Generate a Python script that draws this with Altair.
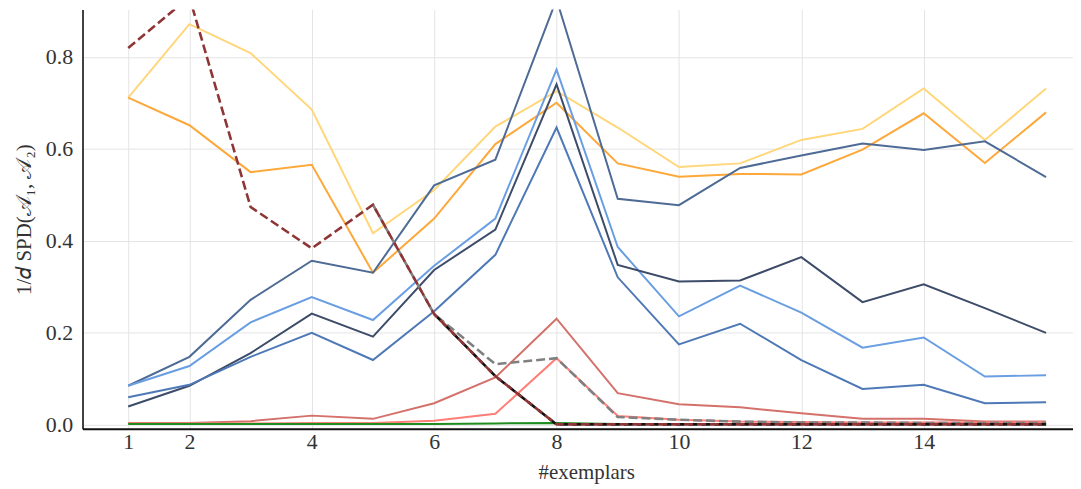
import altair as alt
import pandas as pd

exemplars = list(range(1, 17))

yellow = [0.711, 0.871, 0.808, 0.685, 0.416, 0.510, 0.648, 0.725, 0.646, 0.560, 0.568, 0.619, 0.643, 0.731, 0.619, 0.731]
orange = [0.711, 0.651, 0.549, 0.565, 0.330, 0.448, 0.610, 0.700, 0.568, 0.539, 0.545, 0.544, 0.598, 0.677, 0.569, 0.679]
slate = [0.084, 0.147, 0.271, 0.356, 0.330, 0.520, 0.576, 0.925, 0.491, 0.477, 0.558, 0.585, 0.611, 0.597, 0.616, 0.538]
lightblue = [0.084, 0.127, 0.222, 0.277, 0.227, 0.345, 0.448, 0.772, 0.386, 0.235, 0.302, 0.243, 0.167, 0.189, 0.104, 0.107]
navy = [0.039, 0.084, 0.155, 0.241, 0.191, 0.336, 0.424, 0.740, 0.347, 0.311, 0.313, 0.364, 0.266, 0.305, 0.253, 0.199]
medblue = [0.059, 0.086, 0.147, 0.199, 0.140, 0.246, 0.369, 0.646, 0.320, 0.174, 0.219, 0.140, 0.077, 0.086, 0.046, 0.048]
redbrown = [0.003, 0.003, 0.007, 0.019, 0.012, 0.046, 0.102, 0.230, 0.068, 0.044, 0.037, 0.024, 0.012, 0.012, 0.006, 0.006]
salmon = [0.002, 0.002, 0.002, 0.003, 0.003, 0.008, 0.023, 0.144, 0.018, 0.010, 0.006, 0.005, 0.004, 0.004, 0.004, 0.004]
green = [0.001, 0.001, 0.001, 0.001, 0.001, 0.001, 0.002, 0.003, 0.001, 0.001, 0.001, 0.001, 0.001, 0.001, 0.001, 0.001]

gray_x = [5, 6, 7, 8, 9, 10, 11, 12, 13, 14, 15, 16]
gray_dashed = [0.478, 0.240, 0.131, 0.144, 0.016, 0.010, 0.006, 0.004, 0.004, 0.003, 0.003, 0.003]
black_x = [6, 7, 8, 9, 10, 11, 12, 13, 14, 15, 16]
black_dashed = [0.240, 0.105, 0.000, 0.000, 0.000, 0.000, 0.000, 0.000, 0.000, 0.000, 0.000]
red_dashed = [0.819, 0.930, 0.473, 0.383, 0.478, 0.240, 0.105, 0.000, 0.000, 0.000, 0.000, 0.000, 0.000, 0.000, 0.000, 0.000]

solid_names = ["yellow", "orange", "slate", "lightblue", "navy", "medblue", "redbrown", "salmon", "green"]
solid_values = [yellow, orange, slate, lightblue, navy, medblue, redbrown, salmon, green]
dash_names = ["gray", "black", "darkred"]

names = solid_names + dash_names
colors = ["#FFD67A", "#FDA83A", "#4D6B95", "#6A9EE2", "#3D4C69", "#4E79B6",
          "#D4716A", "#FF7E78", "#1E8C1E", "#808080", "#111111", "#8E3535"]

rows = []
for i, (nm, vals) in enumerate(zip(solid_names, solid_values)):
    for x, v in zip(exemplars, vals):
        rows.append({"x": x, "v": v, "s": nm})
solid_df = pd.DataFrame(rows)

drows = []
for nm, xs, vals in [("gray", gray_x, gray_dashed),
                     ("black", black_x, black_dashed),
                     ("darkred", exemplars, red_dashed)]:
    for x, v in zip(xs, vals):
        drows.append({"x": x, "v": v, "s": nm})
dash_df = pd.DataFrame(drows)

FONT = "Liberation Serif"

xscale = alt.Scale(domain=[0.2532, 16.44], nice=False, zero=False)
yscale = alt.Scale(domain=[-0.0097, 0.9027], nice=False, zero=False)
cscale = alt.Scale(domain=names, range=colors)

xax = alt.X("x:Q", scale=xscale, axis=alt.Axis(
    values=[1, 2, 4, 6, 8, 10, 12, 14], title="#exemplars", format="d",
    titleX=507, titleY=44, titleBaseline="middle", labelPadding=3,
    labelFont=FONT, labelFontSize=22, labelColor="#333333",
    titleFont=FONT, titleFontSize=21, titleFontWeight="normal", titleColor="#333333",
    domainColor="#111111", domainWidth=2, ticks=False,
    grid=True, gridColor="#E4E4E4", gridWidth=1))
yax = alt.Y("v:Q", scale=yscale, axis=alt.Axis(
    values=[0.0, 0.2, 0.4, 0.6, 0.8], format=".1f", title="1/𝑑 SPD(𝒜₁, 𝒜₂)",
    titleX=-58, titleY=211, titleAngle=270, titleBaseline="middle", titleAlign="center",
    labelPadding=10,
    labelFont=FONT, labelFontSize=22, labelColor="#333333",
    titleFont=FONT, titleFontSize=21, titleFontWeight="normal", titleColor="#333333",
    domainColor="#111111", domainWidth=1.6, ticks=False,
    grid=True, gridColor="#E4E4E4", gridWidth=1))

solid = alt.Chart(solid_df).mark_line(strokeWidth=2, clip=True).encode(
    x=xax, y=yax,
    color=alt.Color("s:N", scale=cscale, legend=None),
    order=alt.Order("x:Q"),
)

dashed = alt.Chart(dash_df).mark_line(strokeWidth=2.6, strokeDash=[9, 4], clip=True).encode(
    x=alt.X("x:Q", scale=xscale),
    y=alt.Y("v:Q", scale=yscale),
    color=alt.Color("s:N", scale=cscale, legend=None),
    order=alt.Order("x:Q"),
)

chart = alt.layer(solid, dashed).properties(
    width=997, height=422,
    autosize=alt.AutoSizeParams(type="none"),
    padding={"left": 75, "top": 0, "right": 0, "bottom": 60},
).configure_view(stroke=None)

chart.save("out.html", embed_options={"renderer": "svg", "actions": False})
